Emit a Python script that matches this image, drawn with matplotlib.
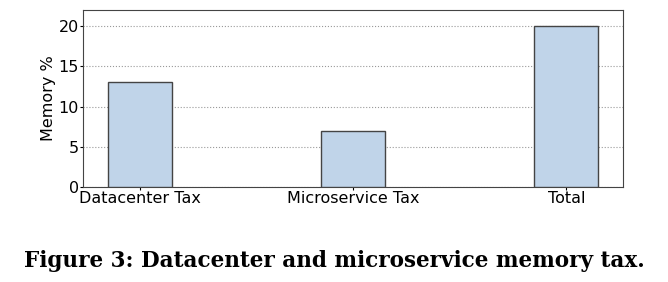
import matplotlib
matplotlib.use('Agg')
import matplotlib.pyplot as plt

categories = ['Datacenter Tax', 'Microservice Tax', 'Total']
memory_pct = [13, 7, 20]
yticks = [0, 5, 10, 15, 20]

fig = plt.figure(figsize=(6.68, 2.82), dpi=100)
ax = fig.add_axes([83/668, 1 - 187/282, 540/668, 177/282])

x = list(range(len(categories)))
ax.bar(x, memory_pct, width=0.3, color='#c0d4e9', edgecolor='#444444', linewidth=1.0, zorder=3)
ax.set_xticks(x)
ax.set_xticklabels(categories, fontsize=11.5)
ax.set_yticks(yticks)
ax.tick_params(axis='y', labelsize=11.5)
ax.set_ylim(0, 22)
ax.set_ylabel('Memory %', fontsize=11.5, labelpad=2)
ax.yaxis.grid(True, linestyle=':', color='#999999', linewidth=0.8, zorder=0)
ax.tick_params(axis='x', length=2, pad=1)
ax.tick_params(axis='y', length=2, pad=1)
for s in ax.spines.values():
    s.set_color('#444444')

fig.text(0.5, 1 - 261/282, 'Figure 3: Datacenter and microservice memory tax.',
         ha='center', va='center', fontsize=15.5, fontweight='bold', family='DejaVu Serif')

plt.savefig('out.png', dpi=100)
